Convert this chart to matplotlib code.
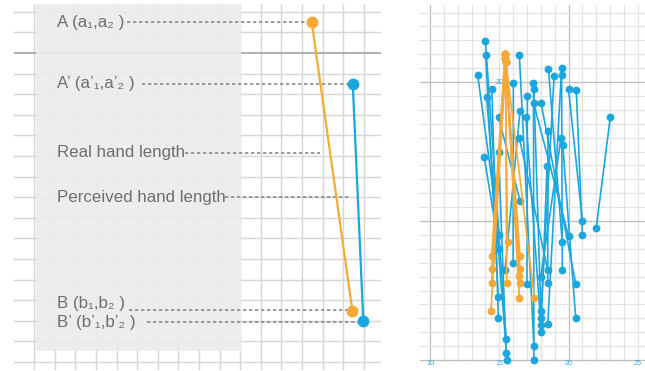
import matplotlib
matplotlib.use("Agg")
import matplotlib.pyplot as plt
from matplotlib.patches import Rectangle
import numpy as np

ORANGE = "#F6A937"
BLUE = "#1BA7DE"
TEXT = "#6e6e6e"
LEADER = "#8a8a8a"
GRID = "#d6d6d6"
GRID_MAJOR = "#a9a9a9"
GRID_R = "#e2e2e2"
GRID_R_MAJOR = "#bdbdbd"
FONT = ["Liberation Sans", "DejaVu Sans"]

# ---------- schematic panel (grid-cell units) ----------
real_x = [13.47, 15.44]      # A -> B
real_y = [16.49, 2.49]
perc_x = [15.46, 15.97]      # A' -> B'
perc_y = [13.50, 2.00]

labels = ["A (a₁,a₂ )", "A’ (a’₁,a’₂ )", "Real hand length",
          "Perceived hand length", "B (b₁,b₂ )", "B’ (b’₁,b’₂ )"]
label_y = [16.50, 13.50, 10.15, 8.00, 2.85, 1.90]
leader_y = [16.49, 13.50, 10.16, 8.01, 2.52, 1.96]
leader_x0 = [4.50, 5.23, 7.32, 9.26, 4.60, 5.47]
leader_x1 = [13.43, 15.33, 13.87, 15.28, 15.33, 15.71]

# ---------- participants panel (cm) ----------
blue_top_x = [14.00, 14.02, 13.45, 14.09, 14.47, 16.45, 16.02, 13.92, 17.47, 17.50,
              18.55, 18.96, 19.50, 19.50, 20.00, 20.56, 23.02, 17.03, 16.50, 16.92,
              17.48, 18.02, 14.95, 18.52, 18.45, 19.46, 19.58, 16.45, 14.95]
blue_top_y = [22.97, 21.94, 20.47, 18.94, 19.47, 21.97, 19.90, 14.58, 19.95, 19.48,
              20.96, 20.45, 21.02, 20.48, 19.50, 19.42, 17.50, 18.97, 17.92, 17.46,
              18.48, 18.48, 17.47, 16.45, 13.98, 15.97, 15.49, 16.00, 14.98]
blue_bot_x = [15.50, 14.93, 15.00, 15.56, 14.93, 17.50, 16.00, 15.00, 17.50, 18.00,
              19.55, 18.00, 18.50, 19.55, 21.00, 21.00, 22.00, 17.00, 15.42, 18.00,
              20.00, 20.52, 16.50, 18.50, 18.00, 18.00, 20.52, 18.50, 15.50]
blue_bot_y = [1.51, 4.51, 8.97, 0.00, 3.04, 1.00, 7.00, 7.96, 0.00, 3.53,
              8.47, 3.00, 2.57, 6.47, 10.00, 9.00, 9.50, 5.47, 6.50, 2.52,
              8.92, 5.49, 11.46, 5.52, 2.04, 6.00, 3.00, 6.47, 0.48]

orange_top_x = [15.42, 15.47, 15.42, 15.47, 15.45, 15.42,
                15.47, 15.45, 15.42, 15.47, 15.45, 15.42]
orange_top_y = [21.99, 21.46, 21.99, 21.46, 21.70, 21.99,
                21.46, 21.70, 21.99, 21.46, 21.70, 21.99]
orange_bot_x = [14.45, 14.45, 14.45, 14.40, 15.54, 15.60,
                16.50, 16.50, 16.45, 16.50, 16.45, 17.53]
orange_bot_y = [7.50, 6.55, 5.52, 3.53, 5.52, 8.50,
                7.50, 6.55, 6.06, 5.52, 4.48, 4.48]

x_tick_vals = [10, 15, 20, 25]
y_tick_vals = [20]

fig = plt.figure(figsize=(6.45, 3.71), dpi=100)
fig.patch.set_facecolor("white")

# ===== left: schematic =====
axL = fig.add_axes([14 / 645, 1 - 370 / 371, 367 / 645, 366 / 371])
axL.set_xlim(-0.985, 16.83)
axL.set_ylim(-0.39, 17.38)
axL.axis("off")

for gx in range(0, 17):
    axL.axvline(gx, color=GRID, lw=1.0, zorder=0)
for gy in range(0, 18):
    axL.axhline(gy, color=GRID_MAJOR if gy == 15 else GRID,
                lw=1.3 if gy == 15 else 1.0, zorder=0)

axL.add_patch(Rectangle((0.08, 0.53), 9.96, 17.0, facecolor="#ececec",
                        edgecolor="none", alpha=0.93, zorder=1))

for lx0, lx1, ly in zip(leader_x0, leader_x1, leader_y):
    axL.plot([lx0, lx1], [ly, ly], color=LEADER, lw=1.2,
             linestyle=(0, (2.0, 1.6)), zorder=2)

for txt, ty in zip(labels, label_y):
    axL.text(1.09, ty, txt, fontsize=12.2, color=TEXT, family=FONT,
             va="center", ha="left", zorder=3)

axL.plot(real_x, real_y, color=ORANGE, lw=1.6, marker="o", ms=7.5, zorder=4)
axL.plot(perc_x, perc_y, color=BLUE, lw=1.6, marker="o", ms=7.5, zorder=4)

# ===== right: participants =====
axR = fig.add_axes([420 / 645, 1 - 362 / 371, 225 / 645, 357 / 371])
axR.set_xlim(9.28, 25.52)
axR.set_ylim(-0.14, 25.54)
axR.axis("off")

for gx in range(10, 26):
    axR.axvline(gx, color=GRID_R_MAJOR if gx % 10 == 0 else GRID_R,
                lw=0.9, zorder=0)
for gy in range(0, 26):
    axR.axhline(gy, color=GRID_R_MAJOR if gy % 10 == 0 else GRID_R,
                lw=0.9, zorder=0)

for x0, y0, x1, y1 in zip(blue_top_x, blue_top_y, blue_bot_x, blue_bot_y):
    axR.plot([x0, x1], [y0, y1], color=BLUE, lw=1.2, marker="o", ms=4.6,
             zorder=3, clip_on=False)
for x0, y0, x1, y1 in zip(orange_top_x, orange_top_y, orange_bot_x, orange_bot_y):
    axR.plot([x0, x1], [y0, y1], color=ORANGE, lw=1.2, marker="o", ms=4.6,
             zorder=4, clip_on=False)

for xv in x_tick_vals:
    axR.text(xv, -0.25, str(xv), fontsize=5.2, color="#3aa9dc", family=FONT,
             ha="center", va="center", zorder=5, clip_on=False)
for yv in y_tick_vals:
    axR.text(15, yv, str(yv), fontsize=5.2, color="#3aa9dc", family=FONT,
             ha="center", va="center", zorder=2)

fig.savefig("out.png", dpi=100, facecolor="white")
